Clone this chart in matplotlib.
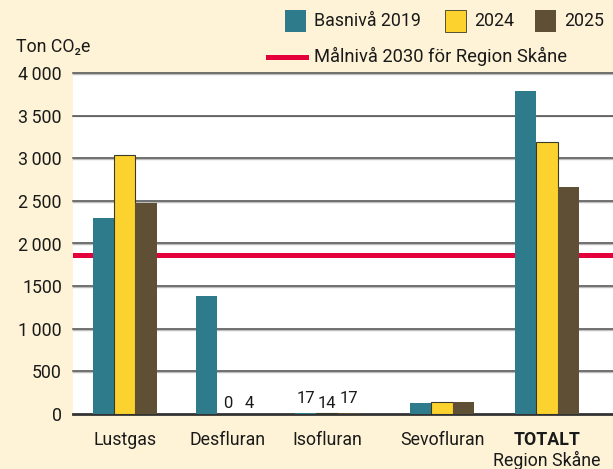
import matplotlib
matplotlib.use("Agg")
import matplotlib.pyplot as plt
from matplotlib.patches import Rectangle
from matplotlib.lines import Line2D

# ── data ────────────────────────────────────────────────────────────────────
CATEGORIES = ["Lustgas", "Desfluran", "Isofluran", "Sevofluran", "TOTALT"]
BASE_2019 = [2295, 1385, 17, 130, 3790]
Y2024 = [3035, 0, 14, 140, 3190]
Y2025 = [2478, 4, 17, 143, 2660]
TARGET_2030 = 1870
LABELLED = {1: [None, 0, 4], 2: [17, 14, 17]}   # category index -> shown values
YTICKS = [0, 500, 1000, 1500, 2000, 2500, 3000, 3500, 4000]
YTICK_LABELS = ["0", "500", "1\u2009000", "1500", "2\u2009000", "2\u2009500",
                "3\u2009000", "3\u2009500", "4\u2009000"]

# ── layout / style ──────────────────────────────────────────────────────────
CENTERS = [2.42, 7.25, 11.91, 17.30, 22.22]   # group centres, bar width = 1
XMAX = 25.31
BG = "#FEF3D6"
TEAL = "#2E7B8C"
YELLOW = "#FCD32E"
BROWN = "#5E4F35"
RED = "#E4003B"
TXT = "#1a1a1a"
FS = 12.8
LABEL_DY = {1: [0, 2, 2], 2: [4.5, 1, 4.5]}

plt.rcParams["font.family"] = ["Roboto", "DejaVu Sans"]

fig = plt.figure(figsize=(6.13, 4.69), dpi=100, facecolor=BG)
ax = fig.add_axes([73 / 613, 55 / 469, 540 / 613, 341 / 469])
ax.set_facecolor("white")
ax.set_xlim(0, XMAX)
ax.set_ylim(0, 4000)

for y in YTICKS[1:]:
    ax.axhline(y - 10, color="#bdbdbd", lw=1.0, zorder=1, clip_on=False)
    ax.axhline(y, color="#4a4a4a", lw=1.1, zorder=1, clip_on=False)

ax.axhline(TARGET_2030, color=RED, lw=3.6, zorder=2)

series = [(BASE_2019, TEAL, "none", -1), (Y2024, YELLOW, "#3a3a2a", 0),
          (Y2025, BROWN, "none", 1)]
for vals, col, ec, off in series:
    xs = [c + off for c in CENTERS]
    ax.bar(xs, vals, width=1.0, color=col, edgecolor=ec,
           linewidth=0.8 if ec != "none" else 0, zorder=3)

for ci, shown in LABELLED.items():
    for k, v in enumerate(shown):
        if v is None:
            continue
        ypos = [BASE_2019, Y2024, Y2025][k][ci]
        ax.annotate(str(v), (CENTERS[ci] + k - 1, ypos),
                    xytext=(0, LABEL_DY[ci][k]),
                    textcoords="offset points", ha="center", va="bottom",
                    fontsize=FS - 0.8, color=TXT, zorder=4)

for s in ["top", "right", "left"]:
    ax.spines[s].set_visible(False)
ax.spines["bottom"].set_color("#333333")
ax.spines["bottom"].set_linewidth(2)

ax.set_yticks(YTICKS)
ax.set_yticklabels(YTICK_LABELS, fontsize=FS, color=TXT)
ax.tick_params(axis="y", length=0, pad=8)
ax.set_xticks(CENTERS[:4])
ax.set_xticklabels(CATEGORIES[:4], fontsize=FS, color=TXT)
ax.tick_params(axis="x", length=0, pad=12)
ax.text(CENTERS[4], -300, CATEGORIES[4], ha="center", va="center",
        fontsize=FS, fontweight="bold", color=TXT)
ax.text(CENTERS[4], -548, "Region Skåne", ha="center", va="center",
        fontsize=FS, color=TXT, clip_on=False)

# y-axis unit
fig.text(16 / 613, 1 - 47 / 469, "Ton CO\u2082e", fontsize=FS, color=TXT,
         ha="left", va="center")

# legend drawn in figure pixels
def fx(px):
    return px / 613

def fy(py):
    return 1 - py / 469

legend_items = [(285, TEAL, "Basnivå 2019"), (445, YELLOW, "2024"), (535, BROWN, "2025")]
for x0, col, lab in legend_items:
    fig.add_artist(Rectangle((fx(x0), fy(32)), 21 / 613, 22 / 469, facecolor=col,
                             edgecolor="#3a3a2a" if col == YELLOW else "none",
                             lw=0.6, transform=fig.transFigure))
    fig.text(fx(x0 + 29), fy(21), lab, fontsize=FS, color=TXT, va="center")
fig.add_artist(Line2D([fx(268), fx(306)], [fy(57), fy(57)], color=RED, lw=3.6,
                      transform=fig.transFigure))
fig.text(fx(314), fy(56), "Målnivå 2030 för Region Skåne", fontsize=FS + 0.4,
         color=TXT, va="center")

fig.savefig("out.png", dpi=100, facecolor=BG)
